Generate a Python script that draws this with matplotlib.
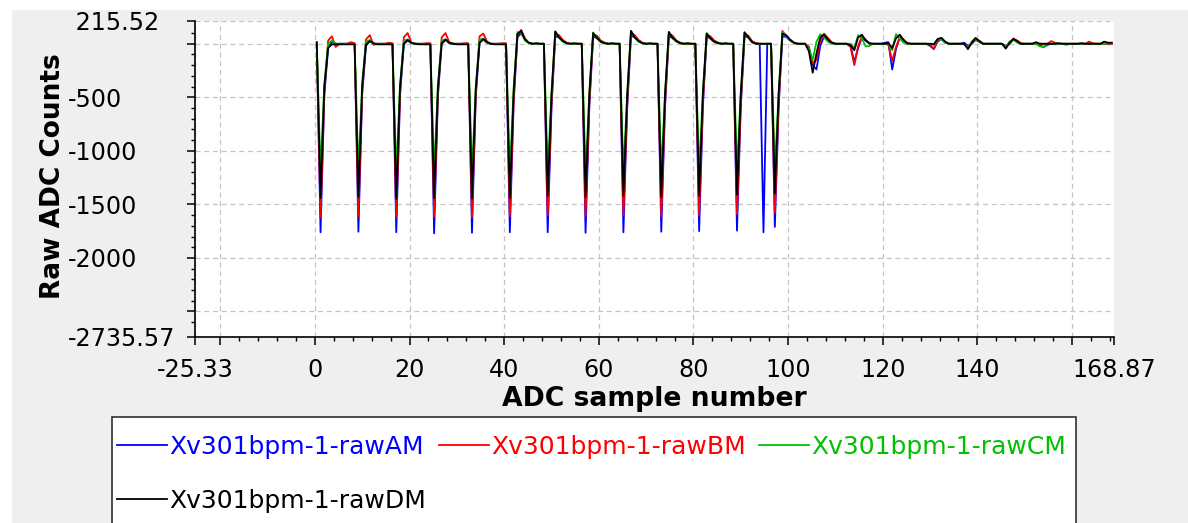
import numpy as np
import matplotlib
matplotlib.use("Agg")
import matplotlib.pyplot as plt
from matplotlib.ticker import FixedLocator, FixedFormatter, NullFormatter
from matplotlib.patches import Rectangle

plt.rcParams["axes.unicode_minus"] = False

# ADC samples are 0.8 apart, first one at 0.4
FIRST_SAMPLE = 0.4
SAMPLE_STEP = 0.8

# one row = one 8-count period (10 samples)
raw_am = [
    12, -1760, -480, -40, 20, 0, 0, 0, 0, 0,
    0, -1755, -470, -20, 30, 0, 0, 0, 0, 0,
    0, -1760, -480, 0, 30, 5, 0, 0, 0, 0,
    0, -1770, -490, 0, 35, 5, 0, 0, 0, 0,
    0, -1765, -500, 10, 40, 10, 0, 0, 0, 0,
    0, -1760, -560, 60, 100, 40, 10, 0, 0, 0,
    0, -1760, -600, 70, 60, 30, 10, 0, 0, 0,
    0, -1765, -590, 65, 55, 25, 10, 0, 0, 0,
    0, -1760, -600, 75, 60, 30, 10, 0, 0, 0,
    0, -1755, -590, 70, 55, 25, 10, 0, 0, 0,
    0, -1750, -580, 65, 50, 25, 10, 0, 0, 0,
    0, -1745, -590, 70, 60, 20, 5, 0, -1760, 0,
    0, -1710, -600, 70, 65, 30, 10, 0, 0, 0,
    -30, -200, -240, -20, 70, 50, 10, 0, 0, 0,
    0, -20, -170, -40, 60, 30, 0, 0, 0, 0,
    10, 15, -240, -50, 60, 30, 0, 0, 0, 0,
    0, 0, -20, -50, 20, 45, 10, 0, 0, 0,
    0, 10, -20, 0, 35, 20, 0, 0, 0, 0,
    0, 0, -20, 0, 40, 25, 0, 0, 0, 0,
    0, -15, -30, -10, 0, 0, 0, 0, 0, 0,
    0, 0, 0, 0, 0, 0, 0, 0, 0, 0,
    0,
]
raw_bm = [
    12, -1620, -450, 30, 70, -30, 0, 0, 0, 15,
    5, -1610, -440, 40, 80, -10, 0, 0, 0, 10,
    5, -1620, -450, 60, 100, 10, 0, 0, 0, 5,
    5, -1615, -460, 60, 100, 15, 0, 0, 0, 5,
    5, -1620, -470, 70, 95, 20, 0, 0, 0, 5,
    5, -1610, -520, 80, 130, 50, 10, 0, 0, 0,
    0, -1600, -560, 90, 80, 35, 10, 0, 0, 0,
    0, -1610, -550, 85, 75, 30, 10, 0, 0, 0,
    0, -1600, -560, 100, 80, 35, 10, 0, 0, 0,
    0, -1610, -550, 95, 75, 30, 10, 0, 0, 0,
    0, -1600, -540, 85, 70, 30, 10, 0, 0, 0,
    0, -1590, -550, 95, 75, 25, 5, 0, 0, 0,
    0, -1580, -560, 120, 70, 35, 10, 0, 0, 0,
    -40, -180, -150, 30, 95, 55, 15, 0, 0, 0,
    0, -30, -200, -20, 70, 40, 0, 0, 0, 0,
    0, -10, -160, -30, 60, 40, 5, 0, 0, 0,
    0, 0, -10, -45, 30, 50, 15, 0, 0, 0,
    0, 0, -30, 0, 40, 30, 0, 0, 0, 0,
    0, 0, -30, 0, 50, 30, 5, 0, 0, 0,
    0, 0, 0, 0, 25, 10, 0, 0, 0, 0,
    0, 0, 0, 0, 20, 5, 0, 0, 0, 0,
    0,
]
raw_cm = [
    12, -1200, -380, 0, 30, 0, 0, 0, 0, 0,
    0, -1190, -370, 20, 35, 0, 0, 0, 0, 0,
    0, -1210, -380, 30, 40, 5, 0, 0, 0, 0,
    0, -1200, -390, 30, 40, 5, 0, 0, 0, 0,
    0, -1205, -400, 40, 45, 10, 0, 0, 0, 0,
    0, -1200, -420, 110, 100, 30, 5, 0, 0, 0,
    0, -1190, -470, 115, 55, 20, 5, 0, 0, 0,
    0, -1200, -460, 105, 50, 15, 5, 0, 0, 0,
    0, -1190, -470, 120, 55, 20, 5, 0, 0, 0,
    0, -1200, -460, 110, 50, 20, 5, 0, 0, 0,
    0, -1190, -450, 100, 45, 15, 5, 0, 0, 0,
    0, -1180, -460, 110, 55, 15, 0, 0, 0, 0,
    0, -1170, -460, 110, 75, 35, 10, 0, 0, 0,
    -50, -150, 20, 90, 60, 20, 0, 0, 0, 0,
    0, 0, -40, 80, 50, -25, -20, 0, 0, 0,
    0, 0, -60, 90, 50, 10, 0, 0, 0, 0,
    0, 0, 0, -10, 40, 40, 10, 0, 0, 0,
    0, 0, -40, 20, 50, 15, 0, 0, 0, 0,
    0, 0, -30, 20, 40, 10, 0, 0, 0, 0,
    0, -25, -30, 0, 0, 0, 0, 0, -10, 0,
    0, 0, 0, 0, 0, 0, 0, 0, 0, 5,
    5,
]
raw_dm = [
    12, -1440, -400, -40, -5, -5, -5, -5, -5, -5,
    -5, -1430, -390, -10, 25, 5, -5, -5, -5, -5,
    -5, -1450, -400, 0, 35, 10, 0, -5, -5, -5,
    -5, -1440, -410, 5, 40, 10, 0, -5, -5, -5,
    -5, -1445, -420, 10, 45, 15, 0, -5, -5, -5,
    -5, -1440, -450, 90, 120, 40, 10, 0, 5, 0,
    0, -1420, -480, 115, 60, 25, 5, 0, 5, 0,
    0, -1430, -470, 100, 55, 20, 5, 0, 5, 0,
    0, -1420, -480, 120, 60, 25, 5, 0, 5, 0,
    0, -1430, -470, 110, 55, 25, 5, 0, 5, 0,
    0, -1420, -460, 95, 50, 20, 5, 0, 5, 0,
    0, -1410, -470, 105, 60, 15, 0, 0, 0, 0,
    0, -1400, -470, 95, 80, 40, 12, 0, 0, 0,
    -70, -270, -90, 60, 85, 40, 10, 0, 0, 0,
    0, -15, -60, 60, 85, 30, 5, 0, 0, 0,
    0, 5, -40, 50, 85, 35, 5, 0, 0, 0,
    0, 0, 0, -5, 45, 55, 20, 0, 0, 0,
    0, 0, -50, 10, 55, 25, 0, 0, 0, 0,
    0, 0, -45, 10, 45, 25, 0, 0, 0, 0,
    15, 0, 0, 0, 0, 0, 5, 0, 0, 0,
    0, 0, 5, 0, 0, 0, 0, 0, 20, 10,
    10,
]

series = [raw_am, raw_bm, raw_cm, raw_dm]
names = ["Xv301bpm-1-rawAM", "Xv301bpm-1-rawBM", "Xv301bpm-1-rawCM", "Xv301bpm-1-rawDM"]
colors = ["#0000ff", "#ff0000", "#00c000", "#000000"]

x_major = [-25.33, -20, 0, 20, 40, 60, 80, 100, 120, 140, 160, 168.87]
x_labels = ["-25.33", "", "0", "20", "40", "60", "80", "100", "120", "140", "", "168.87"]
y_major = [215.52, 0, -500, -1000, -1500, -2000, -2500, -2735.57]
y_labels = [" 215.52", "", "-500", "-1000", "-1500", "-2000", "", "-2735.57"]

W, H = 1188, 523
fig = plt.figure(figsize=(W / 100, H / 100), dpi=100, facecolor="#efefef")
# white strips at the top and left edge of the screenshot
fig.add_artist(Rectangle((0, 0), 12 / W, 1, transform=fig.transFigure,
                         facecolor="white", edgecolor="none", zorder=-5))
fig.add_artist(Rectangle((0, 1 - 10 / H), 1, 10 / H, transform=fig.transFigure,
                         facecolor="white", edgecolor="none", zorder=-5))

ax = fig.add_axes([195 / W, (H - 336.7) / H, 919 / W, 316 / H])
ax.set_facecolor("white")

x = FIRST_SAMPLE + SAMPLE_STEP * np.arange(len(raw_dm))
handles = []
for vals, name, col in zip(series, names, colors):
    h, = ax.plot(x, vals, color=col, lw=1.3, label=name)
    handles.append(h)

ax.set_xlim(-25.33, 168.87)
ax.set_ylim(-2735.57, 215.52)

ax.xaxis.set_major_locator(FixedLocator(x_major))
ax.xaxis.set_major_formatter(FixedFormatter(x_labels))
ax.xaxis.set_minor_locator(FixedLocator([v for v in range(-20, 169, 4) if v % 20]))
ax.yaxis.set_major_locator(FixedLocator(y_major))
ax.yaxis.set_major_formatter(FixedFormatter(y_labels))
ax.yaxis.set_minor_locator(FixedLocator([v for v in range(-2600, 200, 100) if v % 500]))
ax.xaxis.set_minor_formatter(NullFormatter())
ax.yaxis.set_minor_formatter(NullFormatter())

ax.tick_params(which="major", length=5.8, width=1.1, labelsize=17.2, color="black")
ax.tick_params(which="minor", length=2.9, width=1.0)
ax.tick_params(axis="x", which="major", pad=9.5)
ax.tick_params(axis="y", which="major", pad=85.5)
for lbl in ax.get_yticklabels():
    lbl.set_horizontalalignment("left")

for s in ["top", "right"]:
    ax.spines[s].set_visible(False)
for s in ["left", "bottom"]:
    ax.spines[s].set_linewidth(1.2)

ax.grid(which="major", color="#c4c4c4", linestyle=(0, (4, 3)), linewidth=0.9)
ax.set_axisbelow(True)

ax.set_xlabel("ADC sample number", fontsize=19.2, fontweight="bold", labelpad=2.7)
ax.set_ylabel("Raw ADC Counts", fontsize=19, fontweight="bold")
ax.yaxis.set_label_coords(-0.1404, 0.508)

# legend frame runs off the bottom of the image
fig.add_artist(Rectangle((112 / W, -0.1), 964 / W, 0.1 + 1 - 417 / H,
                         transform=fig.transFigure, facecolor="white",
                         edgecolor="#303030", lw=1.2, zorder=1))
fig.legend([handles[0], handles[3], handles[1], handles[2]],
           [names[0], names[3], names[1], names[2]],
           ncol=3, loc="upper left", mode="expand",
           bbox_to_anchor=(117 / W, 1 - 435 / H, (1066 - 117) / W, 0),
           frameon=False, fontsize=18, handlelength=2.0, handletextpad=0.1,
           borderpad=0, borderaxespad=0, labelspacing=1.2,
           columnspacing=0.4, labelcolor="linecolor")

fig.savefig("out.png", dpi=100, facecolor=fig.get_facecolor())
